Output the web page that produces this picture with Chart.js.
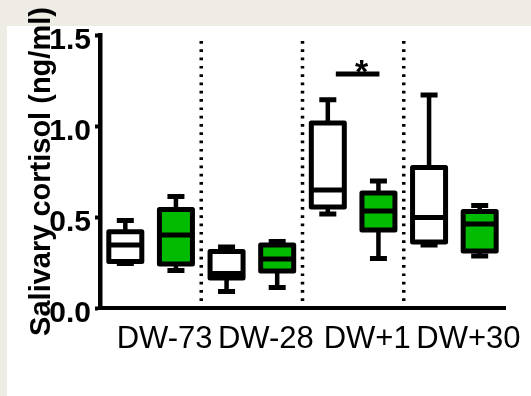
<!DOCTYPE html>
<html>
<head>
<meta charset="utf-8">
<script src="https://cdn.jsdelivr.net/npm/chart.js@4.4.1/dist/chart.umd.min.js"></script>
<style>
  html, body { margin: 0; padding: 0; background: #efece5; }
  #wrap { position: absolute; left: 0; top: 0; width: 531px; height: 396px; }
</style>
</head>
<body>
<div id="wrap"><canvas id="c"></canvas></div>
<script>
// ---- data ----
const categories = ['DW-73', 'DW-28', 'DW+1', 'DW+30'];
const yTickValues = [0, 0.5, 1.0, 1.5];

// control group (white boxes)
const ctrlMin = [0.245, 0.090, 0.516, 0.346];
const ctrlQ1  = [0.255, 0.165, 0.555, 0.363];
const ctrlMed = [0.346, 0.190, 0.648, 0.497];
const ctrlQ3  = [0.419, 0.310, 1.016, 0.772];
const ctrlMax = [0.481, 0.335, 1.144, 1.170];

// treated group (green boxes)
const trtMin = [0.206, 0.113, 0.272, 0.286];
const trtQ1  = [0.242, 0.203, 0.429, 0.313];
const trtMed = [0.401, 0.269, 0.533, 0.462];
const trtQ3  = [0.541, 0.346, 0.632, 0.530];
const trtMax = [0.612, 0.365, 0.698, 0.563];

// significance marker
const sigCategory = ['DW+1'];
const sigLevel = [1.286];
const sigText = ['*'];

const series = [
  { min: ctrlMin, q1: ctrlQ1, med: ctrlMed, q3: ctrlQ3, max: ctrlMax },
  { min: trtMin,  q1: trtQ1,  med: trtMed,  q3: trtQ3,  max: trtMax }
];

const FONT = "'Liberation Sans', Arial, Helvetica, sans-serif";

const boxPlugin = {
  id: 'boxes',
  beforeDraw(chart) {
    const ctx = chart.ctx;
    ctx.save();
    ctx.fillStyle = '#efece5';
    ctx.fillRect(0, 0, chart.width, chart.height);
    ctx.fillStyle = '#ffffff';
    ctx.fillRect(7, 26, chart.width - 7, chart.height - 26);
    ctx.restore();
  },
  beforeDatasetsDraw(chart) {
    const ctx = chart.ctx, x = chart.scales.x, area = chart.chartArea;
    ctx.save();
    ctx.strokeStyle = '#000';
    ctx.lineWidth = 3.5;
    ctx.setLineDash([2.7, 5.6]);
    for (let i = 0; i < categories.length - 1; i++) {
      const px = (x.getPixelForValue(i) + x.getPixelForValue(i + 1)) / 2;
      ctx.beginPath();
      ctx.moveTo(px, area.top + 6);
      ctx.lineTo(px, area.bottom - 2);
      ctx.stroke();
    }
    ctx.restore();
  },
  afterDatasetsDraw(chart) {
    const ctx = chart.ctx, y = chart.scales.y;
    ctx.save();
    ctx.strokeStyle = '#000';
    ctx.lineCap = 'butt';
    series.forEach((s, di) => {
      const meta = chart.getDatasetMeta(di);
      meta.data.forEach((el, i) => {
        const cx = el.x, w = el.width;
        const pMin = y.getPixelForValue(s.min[i]);
        const pQ1 = y.getPixelForValue(s.q1[i]);
        const pMed = y.getPixelForValue(s.med[i]);
        const pQ3 = y.getPixelForValue(s.q3[i]);
        const pMax = y.getPixelForValue(s.max[i]);
        // whiskers
        ctx.lineWidth = 4.5;
        ctx.beginPath();
        ctx.moveTo(cx, pQ3); ctx.lineTo(cx, pMax);
        ctx.moveTo(cx, pQ1); ctx.lineTo(cx, pMin);
        ctx.stroke();
        // caps
        ctx.lineWidth = 5;
        ctx.beginPath();
        ctx.moveTo(cx - 8.5, pMax); ctx.lineTo(cx + 8.5, pMax);
        ctx.moveTo(cx - 8.5, pMin); ctx.lineTo(cx + 8.5, pMin);
        ctx.stroke();
        // box outline
        ctx.lineJoin = 'round';
        ctx.lineWidth = 5;
        ctx.strokeRect(cx - w / 2, pQ3, w, pQ1 - pQ3);
        // median
        ctx.beginPath();
        ctx.moveTo(cx - w / 2, pMed); ctx.lineTo(cx + w / 2, pMed);
        ctx.stroke();
      });
    });
    // significance bar
    sigCategory.forEach((cat, k) => {
      const idx = categories.indexOf(cat);
      const a = chart.getDatasetMeta(0).data[idx];
      const b = chart.getDatasetMeta(1).data[idx];
      const x1 = a.x + 8, x2 = b.x + 1;
      const py = y.getPixelForValue(sigLevel[k]);
      ctx.lineWidth = 5;
      ctx.beginPath();
      ctx.moveTo(x1, py); ctx.lineTo(x2, py);
      ctx.stroke();
      ctx.fillStyle = '#000';
      ctx.font = 'bold 34px ' + FONT;
      ctx.textAlign = 'center';
      ctx.textBaseline = 'alphabetic';
      ctx.fillText(sigText[k], (x1 + x2) / 2 + 4, py + 9);
    });
    ctx.restore();
  }
};

new Chart(document.getElementById('c'), {
  type: 'bar',
  data: {
    labels: categories,
    datasets: [
      {
        label: 'Control',
        data: categories.map((_, i) => [ctrlQ1[i], ctrlQ3[i]]),
        backgroundColor: '#ffffff',
        borderWidth: 0,
        categoryPercentage: 1.0,
        barPercentage: 0.652
      },
      {
        label: 'Treated',
        data: categories.map((_, i) => [trtQ1[i], trtQ3[i]]),
        backgroundColor: '#00bb00',
        borderWidth: 0,
        categoryPercentage: 1.0,
        barPercentage: 0.652
      }
    ]
  },
  options: {
    responsive: true,
    maintainAspectRatio: false,
    animation: false,
    events: [],
    layout: { padding: { left: 0, top: 35, right: 26, bottom: 0 } },
    plugins: { legend: { display: false }, tooltip: { enabled: false } },
    scales: {
      x: {
        type: 'category',
        offset: true,
        grid: { display: false, drawTicks: false },
        border: { display: true, color: '#000', width: 4 },
        ticks: {
          color: '#000',
          font: { family: FONT, size: 31, weight: 'normal' },
          labelOffset: 14,
          padding: 13,
          maxRotation: 0,
          minRotation: 0,
          autoSkip: false
        },
        afterFit(scale) { scale.height = 88; }
      },
      y: {
        type: 'linear',
        min: 0,
        max: 1.5,
        afterBuildTicks(scale) { scale.ticks = yTickValues.map(v => ({ value: v })); },
        grid: { display: true, drawOnChartArea: false, drawTicks: true, tickLength: 5, tickWidth: 4, tickColor: '#000' },
        border: { display: true, color: '#000', width: 4.5 },
        ticks: {
          color: '#000',
          font: { family: FONT, size: 30, weight: 'bold' },
          padding: 4,
          labelOffset: 6,
          callback: (v) => Number(v).toFixed(1)
        },
        title: {
          display: true,
          text: 'Salivary cortisol (ng/ml)',
          color: '#000',
          font: { family: FONT, size: 29, weight: 'bold' },
          padding: { top: 25, bottom: 0 }
        },
        afterFit(scale) { scale.width = 100; }
      }
    }
  },
  plugins: [boxPlugin]
});
</script>
</body>
</html>
